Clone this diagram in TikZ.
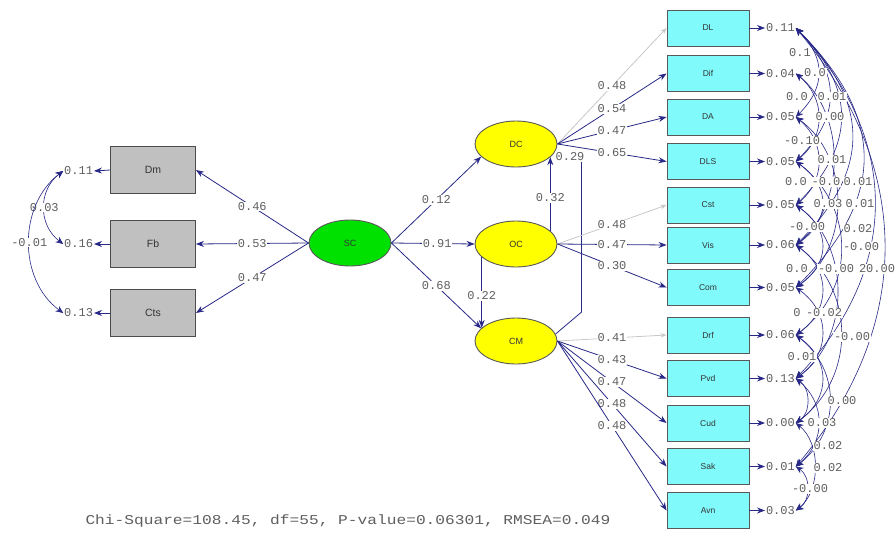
\documentclass[tikz,border=0pt]{standalone}
\usepackage{fontspec}
\setmainfont{Liberation Sans}
\newfontfamily\numfont{Liberation Mono}
\newfontfamily\chifont[FakeStretch=1.2]{Liberation Mono}
\usetikzlibrary{shapes.geometric,arrows.meta,calc}
\definecolor{navy}{RGB}{40,40,135}
\definecolor{lblgray}{RGB}{95,95,95}
\definecolor{boxgray}{RGB}{192,192,192}
\definecolor{cyanbox}{RGB}{128,250,250}
\definecolor{greenell}{RGB}{0,225,0}
\definecolor{yellowell}{RGB}{255,255,0}
\definecolor{fixgray}{RGB}{200,200,200}
\newcommand{\covarc}[4]{\draw[cov] (e#1.east) .. controls ($(e#1.east)+(#3,#4)$) and ($(e#2.east)+(#3,-#4)$) .. (e#2.east);}
\begin{document}
\begin{tikzpicture}[x=1pt,y=-1pt,
  obsL/.style={draw=black!70, fill=boxgray, minimum width=85pt, minimum height=47pt, inner sep=0pt, font=\fontsize{10.5}{10.5}\selectfont, text=black!80, line width=0.9pt},
  obsR/.style={draw=black!65, fill=cyanbox, minimum width=82pt, minimum height=36pt, inner sep=0pt, font=\fontsize{8.5}{8.5}\selectfont, text=black!80, line width=0.9pt},
  lat/.style={ellipse, draw=black!65, line width=0.9pt, minimum width=82pt, minimum height=46pt, inner sep=0pt, font=\fontsize{9}{9}\selectfont, text=black!80},
  lpath/.style={navy, line width=0.8pt, -{Stealth[length=8pt,width=6pt]}},
  fixpath/.style={fixgray, line width=0.8pt, -{Stealth[length=6pt,width=4.5pt]}},
  cov/.style={navy, line width=0.6pt, {Stealth[length=7.5pt,width=6.5pt]}-{Stealth[length=7.5pt,width=6.5pt]}},
  val/.style={font=\numfont\fontsize{12}{12}\selectfont, text=lblgray, inner sep=0.8pt},
  wval/.style={val, fill=white},
]
\useasboundingbox (0,0) rectangle (896,533);
\fill[white] (0,0) rectangle (896,533);

% left observed
\node[obsL] (Dm) at (153,170) {Dm};
\node[obsL] (Fb) at (153,244) {Fb};
\node[obsL] (Cts) at (153,313) {Cts};

% latent
\node[lat, fill=greenell] (SC) at (350,243) {SC};
\node[lat, fill=yellowell] (DC) at (516,144) {DC};
\node[lat, fill=yellowell] (OC) at (516,244) {OC};
\node[lat, fill=yellowell] (CM) at (516,341) {CM};

% right observed
\node[obsR] (r1) at (708,28) {DL};
\node[obsR] (r2) at (708,73.5) {Dif};
\node[obsR] (r3) at (708,117) {DA};
\node[obsR] (r4) at (708,161.5) {DLS};
\node[obsR] (r5) at (708,205) {Cst};
\node[obsR] (r6) at (708,245) {Vis};
\node[obsR] (r7) at (708,287.5) {Com};
\node[obsR] (r8) at (708,335) {Drf};
\node[obsR] (r9) at (708,378.5) {Pvd};
\node[obsR] (r10) at (708,423) {Cud};
\node[obsR] (r11) at (708,466.5) {Sak};
\node[obsR] (r12) at (708,510.5) {Avn};

% left error terms
\node[val, anchor=east] (d1) at (94,171) {0.11};
\node[val, anchor=east] (d2) at (94,244) {0.16};
\node[val, anchor=east] (d3) at (94,313) {0.13};
\draw[lpath] (Dm.west) -- (d1.east);
\draw[lpath] (Fb.west) -- (d2.east);
\draw[lpath] (Cts.west) -- (d3.east);
\draw[cov] (d1.west) .. controls (38,190) and (38,225) .. (d2.west) node[wval, pos=0.5] {0.03};
\draw[cov] (d1.west) .. controls (18,205) and (18,280) .. (d3.west) node[wval, pos=0.5] {-0.01};

% SC loadings
\draw[lpath] (SC.west) -- (Dm.east) node[wval, pos=0.5] {0.46};
\draw[lpath] (SC.west) -- (Fb.east) node[wval, pos=0.5] {0.53};
\draw[lpath] (SC.west) -- (Cts.east) node[wval, pos=0.5] {0.47};

% structural paths
\draw[lpath] (SC.east) -- (DC.200) node[wval, pos=0.5] {0.12};
\draw[lpath] (SC.east) -- (OC.west) node[wval, pos=0.55] {0.91};
\draw[lpath] (SC.east) -- (CM.160) node[wval, pos=0.5] {0.68};
\draw[lpath] (OC.21) -- (DC.-21) node[wval, pos=0.45] {0.32};
\draw[lpath] (OC.-159) -- (CM.159) node[wval, pos=0.55] {0.22};
\draw[lpath] (CM.10) -- ++(26,-22) -- ++(0,-150) -- (DC.-12);
\node[wval] (p29) at (570,157) {0.29};

% DC loadings
\draw[fixpath] (DC.east) -- (r1.west) node[wval, pos=0.5] {0.48};
\draw[lpath] (DC.east) -- (r2.west) node[wval, pos=0.5] {0.54};
\draw[lpath] (DC.east) -- (r3.west) node[wval, pos=0.5] {0.47};
\draw[lpath] (DC.east) -- (r4.west) node[wval, pos=0.5] {0.65};
% OC loadings
\draw[fixpath] (OC.east) -- (r5.west) node[wval, pos=0.5] {0.48};
\draw[lpath] (OC.east) -- (r6.west) node[wval, pos=0.5] {0.47};
\draw[lpath] (OC.east) -- (r7.west) node[wval, pos=0.5] {0.30};
% CM loadings
\draw[fixpath] (CM.east) -- (r8.west) node[wval, pos=0.5] {0.41};
\draw[lpath] (CM.east) -- (r9.west) node[wval, pos=0.5] {0.43};
\draw[lpath] (CM.east) -- (r10.west) node[wval, pos=0.5] {0.47};
\draw[lpath] (CM.east) -- (r11.west) node[wval, pos=0.5] {0.48};
\draw[lpath] (CM.east) -- (r12.west) node[wval, pos=0.5] {0.48};

% right error terms
\node[val, anchor=west] (e1) at (765,28) {0.11};
\node[val, anchor=west] (e2) at (765,73.5) {0.04};
\node[val, anchor=west] (e3) at (765,117) {0.05};
\node[val, anchor=west] (e4) at (765,161.5) {0.05};
\node[val, anchor=west] (e5) at (765,205) {0.05};
\node[val, anchor=west] (e6) at (765,245) {0.06};
\node[val, anchor=west] (e7) at (765,287.5) {0.05};
\node[val, anchor=west] (e8) at (765,335) {0.06};
\node[val, anchor=west] (e9) at (765,378.5) {0.13};
\node[val, anchor=west] (e10) at (765,423) {0.00};
\node[val, anchor=west] (e11) at (765,466.5) {0.01};
\node[val, anchor=west] (e12) at (765,510.5) {0.03};
\foreach \i in {1,...,12}{\draw[lpath] (r\i.east) -- (e\i.west);}

% error covariances
\covarc{1}{3}{30}{30}
\covarc{1}{4}{45}{45}
\covarc{1}{5}{60}{60}
\covarc{1}{6}{75}{75}
\covarc{1}{7}{90}{90}
\covarc{1}{9}{105}{110}
\covarc{1}{11}{118}{140}
\covarc{2}{4}{30}{25}
\covarc{3}{5}{30}{25}
\covarc{4}{6}{35}{25}
\covarc{5}{7}{35}{25}
\covarc{6}{8}{35}{25}
\covarc{7}{9}{35}{25}
\covarc{8}{10}{35}{25}
\covarc{9}{11}{30}{25}
\covarc{10}{12}{25}{20}
\covarc{3}{7}{55}{40}
\covarc{5}{9}{55}{40}
\covarc{6}{10}{60}{45}
\covarc{4}{8}{60}{45}
\covarc{8}{11}{45}{35}
\covarc{2}{6}{50}{40}
\covarc{11}{12}{15}{10}
\covarc{9}{10}{15}{10}

% covariance labels
\node[wval] (c1) at (800,53) {0.1};
\node[wval] (c2) at (815,73) {0.0};
\node[wval] (c3) at (797,97) {0.0};
\node[wval] (c4) at (832,97) {0.01};
\node[wval] (c5) at (830,117) {0.00};
\node[wval] (c6) at (802,141) {-0.10};
\node[wval] (c7) at (832,160) {0.01};
\node[wval] (c8) at (796,182) {0.0};
\node[wval] (c9) at (826,182) {-0.0};
\node[wval] (c10) at (858,182) {0.01};
\node[wval] (c11) at (828,204) {0.03};
\node[wval] (c12) at (860,204) {0.01};
\node[wval] (c13) at (807,227) {-0.00};
\node[wval] (c14) at (858,229) {0.02};
\node[wval] (c15) at (861,247) {-0.00};
\node[wval] (c16) at (797,269) {0.0};
\node[wval] (c17) at (836,269) {-0.00};
\node[wval] (c18) at (877,269) {20.00};
\node[wval] (c19) at (797,313) {0};
\node[wval] (c20) at (824,313) {-0.02};
\node[wval] (c21) at (852,337) {-0.00};
\node[wval] (c22) at (802,357) {0.01};
\node[wval] (c23) at (842,401) {0.00};
\node[wval] (c24) at (822,423) {0.03};
\node[wval] (c25) at (828,446) {0.02};
\node[wval] (c26) at (828,468) {0.02};
\node[wval] (c27) at (810,489) {-0.00};

% fit statistics
\node[font=\chifont\fontsize{13.5}{13.5}\selectfont, text=lblgray] (fit) at (348,521) {Chi-Square=108.45, df=55, P-value=0.06301, RMSEA=0.049};
\end{tikzpicture}
\end{document}
